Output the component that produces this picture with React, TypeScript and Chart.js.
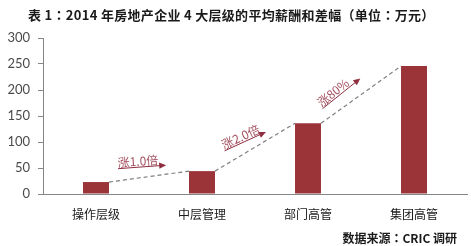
import React, { useEffect, useRef } from "react";
import { Chart, registerables } from "chart.js";

Chart.register(...registerables);

const categories = ["操作层级", "中层管理", "部门高管", "集团高管"];
const salaries = [23, 44, 136, 246];
const growthLabels = ["涨1.0倍", "涨2.0倍", "涨80%"];
const yMin = 0;
const yMax = 300;
const yStep = 50;
const titleText = "表 1：2014 年房地产企业 4 大层级的平均薪酬和差幅（单位：万元）";
const sourceText = "数据来源：CRIC 调研";

// arrow placement along each connecting segment (fractions) and perpendicular offsets in px
const arrowLayout = [
  { t0: 0.134, off0: 12, t1: 0.73, off1: 9 },
  { t0: 0.2, off0: 12.5, t1: 0.685, off1: 7.5 },
  { t0: 0.1, off0: 11, t1: 0.59, off1: 13.6 },
];

const CJK = '"Noto Sans CJK SC", sans-serif';
const CJK_T = '"Noto Sans CJK TC", "Noto Sans CJK SC", sans-serif';

const decorPlugin = {
  id: "decor",
  afterDatasetsDraw(chart: any) {
    const ctx = chart.ctx as CanvasRenderingContext2D;
    const bars = chart.getDatasetMeta(0).data as any[];
    ctx.save();
    for (let i = 0; i < bars.length - 1; i++) {
      const a = bars[i];
      const b = bars[i + 1];
      const x1 = a.x + a.width / 2;
      const y1 = a.y;
      const x2 = b.x - b.width / 2;
      const y2 = b.y;
      ctx.beginPath();
      ctx.setLineDash([4, 3]);
      ctx.strokeStyle = "#7f7f7f";
      ctx.lineWidth = 1.2;
      ctx.moveTo(x1, y1);
      ctx.lineTo(x2, y2);
      ctx.stroke();
      ctx.setLineDash([]);

      const dx = x2 - x1;
      const dy = y2 - y1;
      const len = Math.hypot(dx, dy);
      const ux = dx / len;
      const uy = dy / len;
      const nx = uy;
      const ny = -ux;
      const L = arrowLayout[i];
      const p0x = x1 + ux * len * L.t0 + nx * L.off0;
      const p0y = y1 + uy * len * L.t0 + ny * L.off0;
      const p1x = x1 + ux * len * L.t1 + nx * L.off1;
      const p1y = y1 + uy * len * L.t1 + ny * L.off1;
      const adx = p1x - p0x;
      const ady = p1y - p0y;
      const alen = Math.hypot(adx, ady);
      const ax = adx / alen;
      const ay = ady / alen;
      const anx = ay;
      const any = -ax;
      const ang = Math.atan2(ady, adx);

      ctx.beginPath();
      ctx.strokeStyle = "#8e2e3e";
      ctx.lineWidth = 1;
      ctx.moveTo(p0x, p0y);
      ctx.lineTo(p1x - ax * 5, p1y - ay * 5);
      ctx.stroke();
      ctx.beginPath();
      ctx.fillStyle = "#8e2e3e";
      ctx.moveTo(p1x, p1y);
      ctx.lineTo(p1x - ax * 7 + anx * 3.2, p1y - ay * 7 + any * 3.2);
      ctx.lineTo(p1x - ax * 7 - anx * 3.2, p1y - ay * 7 - any * 3.2);
      ctx.closePath();
      ctx.fill();

      ctx.save();
      ctx.translate(p0x, p0y);
      ctx.rotate(ang);
      ctx.fillStyle = "#a4505f";
      ctx.font = `12px ${CJK}`;
      ctx.textAlign = "left";
      ctx.textBaseline = "bottom";
      ctx.fillText(growthLabels[i], 0, 0);
      ctx.restore();
    }

    ctx.fillStyle = "#1a1a1a";
    ctx.font = `bold 13px ${CJK_T}`;
    ctx.textAlign = "left";
    ctx.textBaseline = "middle";
    (ctx as any).letterSpacing = "0.3px";
    ctx.fillText(titleText, 28, 15);
    (ctx as any).letterSpacing = "0px";
    ctx.font = `bold 12px ${CJK_T}`;
    ctx.textAlign = "right";
    ctx.fillText(sourceText, 457, 238);
    ctx.restore();
  },
};

export default function App() {
  const canvasRef = useRef<HTMLCanvasElement | null>(null);

  useEffect(() => {
    if (!canvasRef.current) return;
    const chart = new Chart(canvasRef.current, {
      type: "bar",
      data: {
        labels: categories,
        datasets: [
          {
            data: salaries,
            backgroundColor: "#9a3438",
            borderWidth: 0,
            barPercentage: 0.49,
            categoryPercentage: 0.5,
          },
        ],
      },
      options: {
        responsive: false,
        animation: false,
        layout: { padding: { left: 0, right: 4, top: 38, bottom: 0 } },
        plugins: {
          legend: { display: false },
          tooltip: { enabled: false },
          title: { display: false },
        },
        scales: {
          x: {
            grid: { display: false, drawTicks: false },
            border: { display: true, color: "#868686", width: 1 },
            ticks: {
              color: "#1a1a1a",
              font: { family: CJK, size: 12 },
              padding: 13,
            },
            afterFit(scale: any) {
              scale.height = 52;
            },
          },
          y: {
            min: yMin,
            max: yMax,
            grid: {
              drawOnChartArea: false,
              drawTicks: true,
              tickLength: 5,
              color: "#868686",
            },
            border: { display: true, color: "#868686", width: 1 },
            ticks: {
              stepSize: yStep,
              color: "#4a4a4a",
              font: { family: "Lato, sans-serif", size: 13 },
              padding: 8,
            },
            afterFit(scale: any) {
              scale.width = 43;
            },
          },
        },
      },
      plugins: [decorPlugin],
    });
    return () => chart.destroy();
  }, []);

  return (
    <div style={{ position: "fixed", left: 0, top: 0, width: 471, height: 246, background: "#fff" }}>
      <canvas ref={canvasRef} width={471} height={246} />
    </div>
  );
}
